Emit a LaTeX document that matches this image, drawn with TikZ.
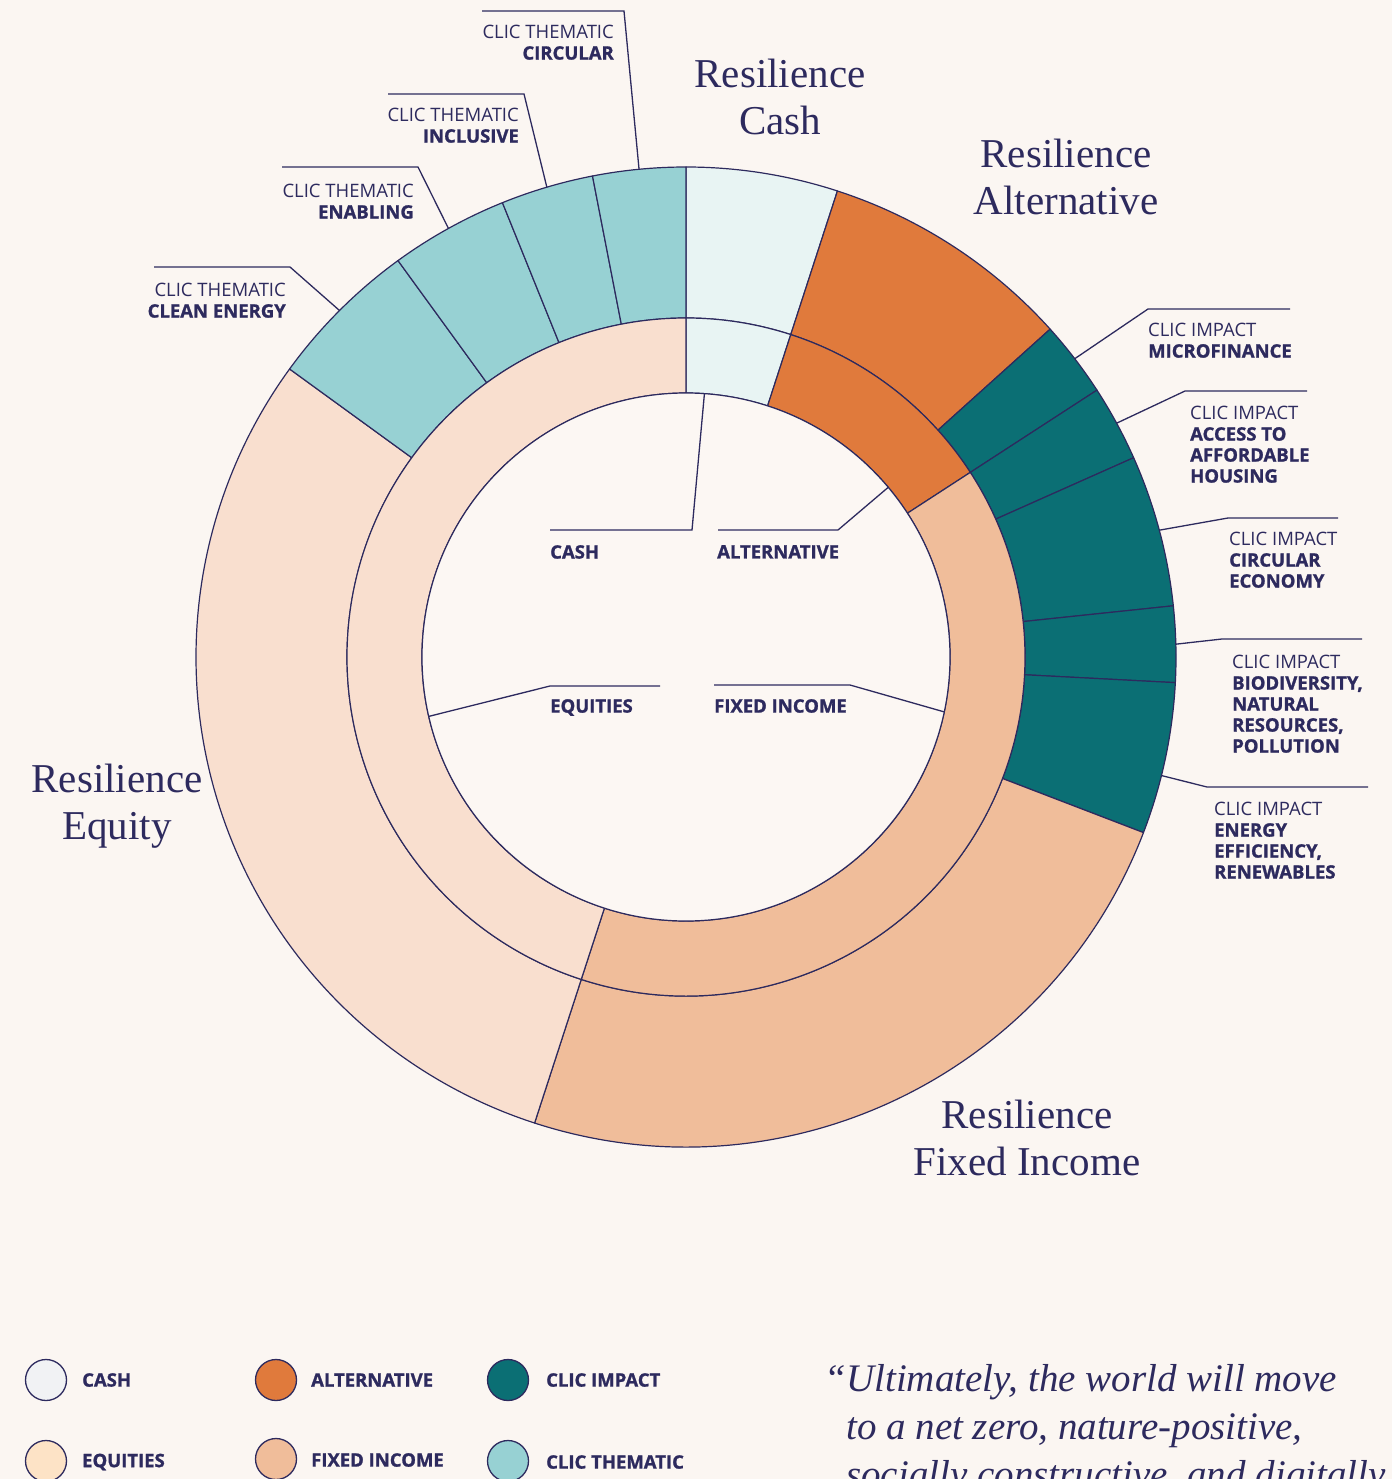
\documentclass[tikz,border=0pt]{standalone}
\usepackage{fontspec}
\newfontfamily\osans{Open Sans}[BoldFeatures={FakeBold=1.2}]
\newfontfamily\serifT{Liberation Serif}[Ligatures=TeX]
\usetikzlibrary{calc}
\definecolor{bg}{HTML}{FBF6F2}
\definecolor{centerc}{HTML}{FCF7F3}
\definecolor{navy}{HTML}{2D2A5E}
\definecolor{cashc}{HTML}{E8F4F3}
\definecolor{altc}{HTML}{E07A3C}
\definecolor{impc}{HTML}{0B6F74}
\definecolor{themc}{HTML}{97D1D3}
\definecolor{eqc}{HTML}{F9DFCF}
\definecolor{fic}{HTML}{F0BD9A}
\definecolor{legcash}{HTML}{F1F2F4}
\definecolor{legeq}{HTML}{FDE3C6}
\newcommand\annsec[5]{\filldraw[seg,fill=#1] (#2:#4) arc[start angle=#2,end angle=#3,radius=#4] -- (#3:#5) arc[start angle=#3,end angle=#2,radius=#5] -- cycle;}
\tikzset{
 seg/.style={draw=navy, line width=1.2pt, line join=round},
 lab/.style={font=\osans\fontsize{18.5}{21}\selectfont, text=navy, inner sep=0, align=left},
 leader/.style={draw=navy, line width=1.3pt},
 title/.style={font=\serifT\fontsize{41}{47}\selectfont, text=navy, inner sep=0, align=center, anchor=north},
 legdot/.style={circle, draw=navy, line width=1.3pt, minimum size=41pt, inner sep=0},
}
\begin{document}
\begin{tikzpicture}[x=1pt,y=1pt]
\useasboundingbox (0,0) rectangle (1392,-1479);
\fill[bg] (0,0) rectangle (1392,-1479);
\begin{scope}[shift={(686,-657)}]
% outer ring
\annsec{cashc}{90}{72}{339}{490}
\annsec{altc}{72}{42}{339}{490}
\annsec{impc}{42}{33}{339}{490}
\annsec{impc}{33}{24}{339}{490}
\annsec{impc}{24}{6}{339}{490}
\annsec{impc}{6}{-3}{339}{490}
\annsec{impc}{-3}{-21}{339}{490}
\annsec{fic}{-21}{-108}{339}{490}
\annsec{eqc}{-108}{-216}{339}{490}
\annsec{themc}{144}{126}{339}{490}
\annsec{themc}{126}{112}{339}{490}
\annsec{themc}{112}{101}{339}{490}
\annsec{themc}{101}{90}{339}{490}
% inner ring
\annsec{cashc}{90}{72}{264}{339}
\annsec{altc}{72}{33}{264}{339}
\annsec{fic}{33}{-108}{264}{339}
\annsec{eqc}{-108}{-270}{264}{339}
\filldraw[seg,fill=centerc] (0,0) circle[radius=264];
% anchor points on rings
\coordinate (pThCirc) at (95.5:490);
\coordinate (pThIncl) at (106.5:490);
\coordinate (pThEnab) at (119:490);
\coordinate (pThClean) at (135:490);
\coordinate (pImMicro) at (37.5:490);
\coordinate (pImHouse) at (28.5:490);
\coordinate (pImCirc) at (15:490);
\coordinate (pImBio) at (1.5:490);
\coordinate (pImEnergy) at (-14:490);
\coordinate (pCash) at (86:264);
\coordinate (pAlt) at (40:264);
\coordinate (pEq) at (193:264);
\coordinate (pFi) at (-12:264);
\end{scope}

% thematic labels (left)
\node[lab,align=right,anchor=north east] (lThCirc) at (614,-25) {CLIC THEMATIC\\\textbf{CIRCULAR}};
\node[lab,align=right,anchor=north east] (lThIncl) at (519,-108) {CLIC THEMATIC\\\textbf{INCLUSIVE}};
\node[lab,align=right,anchor=north east] (lThEnab) at (414,-184) {CLIC THEMATIC\\\textbf{ENABLING}};
\node[lab,align=right,anchor=north east] (lThClean) at (286,-283) {CLIC THEMATIC\\\textbf{CLEAN ENERGY}};
\coordinate (sThCirc) at (482,-11); \coordinate (kThCirc) at (624,-11);
\coordinate (sThIncl) at (388,-94); \coordinate (kThIncl) at (524,-94);
\coordinate (sThEnab) at (282,-167); \coordinate (kThEnab) at (418,-167);
\coordinate (sThClean) at (154,-267); \coordinate (kThClean) at (290,-267);
\draw[leader] (sThCirc) -- (kThCirc) -- (pThCirc);
\draw[leader] (sThIncl) -- (kThIncl) -- (pThIncl);
\draw[leader] (sThEnab) -- (kThEnab) -- (pThEnab);
\draw[leader] (sThClean) -- (kThClean) -- (pThClean);

% impact labels (right)
\node[lab,anchor=north west] (lImMicro) at (1148,-323) {CLIC IMPACT\\\textbf{MICROFINANCE}};
\node[lab,anchor=north west] (lImHouse) at (1190,-406) {CLIC IMPACT\\\textbf{ACCESS TO}\\\textbf{AFFORDABLE}\\\textbf{HOUSING}};
\node[lab,anchor=north west] (lImCirc) at (1229,-532) {CLIC IMPACT\\\textbf{CIRCULAR}\\\textbf{ECONOMY}};
\node[lab,anchor=north west] (lImBio) at (1232,-655) {CLIC IMPACT\\\textbf{BIODIVERSITY,}\\\textbf{NATURAL}\\\textbf{RESOURCES,}\\\textbf{POLLUTION}};
\node[lab,anchor=north west] (lImEnergy) at (1214,-802) {CLIC IMPACT\\\textbf{ENERGY}\\\textbf{EFFICIENCY,}\\\textbf{RENEWABLES}};
\coordinate (kImMicro) at (1148,-309); \coordinate (eImMicro) at (1290,-309);
\coordinate (kImHouse) at (1185,-391); \coordinate (eImHouse) at (1307,-391);
\coordinate (kImCirc) at (1228,-518); \coordinate (eImCirc) at (1338,-518);
\coordinate (kImBio) at (1222,-639); \coordinate (eImBio) at (1362,-639);
\coordinate (kImEnergy) at (1207,-787); \coordinate (eImEnergy) at (1368,-787);
\draw[leader] (pImMicro) -- (kImMicro) -- (eImMicro);
\draw[leader] (pImHouse) -- (kImHouse) -- (eImHouse);
\draw[leader] (pImCirc) -- (kImCirc) -- (eImCirc);
\draw[leader] (pImBio) -- (kImBio) -- (eImBio);
\draw[leader] (pImEnergy) -- (kImEnergy) -- (eImEnergy);

% inner labels
\node[lab,anchor=north west] (lCash) at (550,-545) {\textbf{CASH}};
\node[lab,anchor=north west] (lAlt) at (717,-545) {\textbf{ALTERNATIVE}};
\node[lab,anchor=north west] (lEq) at (550,-699) {\textbf{EQUITIES}};
\node[lab,anchor=north west] (lFi) at (714,-699) {\textbf{FIXED INCOME}};
\coordinate (kCash) at (692,-530); \coordinate (eCash) at (550,-530);
\coordinate (kAlt) at (838,-530); \coordinate (eAlt) at (718,-530);
\coordinate (kEq) at (550,-686); \coordinate (eEq) at (660,-686);
\coordinate (kFi) at (850,-685); \coordinate (eFi) at (714,-685);
\draw[leader] (pCash) -- (kCash) -- (eCash);
\draw[leader] (pAlt) -- (kAlt) -- (eAlt);
\draw[leader] (pEq) -- (kEq) -- (eEq);
\draw[leader] (pFi) -- (kFi) -- (eFi);

% big titles
\node[title] (tCash) at (780,-59) {Resilience\\Cash};
\node[title] (tAlt) at (1066,-139) {Resilience\\Alternative};
\node[title] (tEq) at (117,-764) {Resilience\\Equity};
\node[title] (tFi) at (1027,-1100) {Resilience\\Fixed Income};

% legend
\node[legdot,fill=legcash] (dCash) at (46,-1380) {};
\node[legdot,fill=altc] (dAlt) at (276,-1380) {};
\node[legdot,fill=impc] (dImp) at (508,-1380) {};
\node[legdot,fill=legeq] (dEq) at (46,-1461) {};
\node[legdot,fill=fic] (dFi) at (276,-1459) {};
\node[legdot,fill=themc] (dTh) at (508,-1461) {};
\node[lab,anchor=west] (gCash) at (82,-1380) {\textbf{CASH}};
\node[lab,anchor=west] (gAlt) at (311,-1380) {\textbf{ALTERNATIVE}};
\node[lab,anchor=west] (gImp) at (546,-1380) {\textbf{CLIC IMPACT}};
\node[lab,anchor=west] (gEq) at (82,-1462) {\textbf{EQUITIES}};
\node[lab,anchor=west] (gFi) at (311,-1460) {\textbf{FIXED INCOME}};
\node[lab,anchor=west] (gTh) at (546,-1462) {\textbf{CLIC THEMATIC}};

% quote
\node[font=\serifT\itshape\fontsize{39}{48}\selectfont, text=navy, inner sep=0, align=left, anchor=north west] (quote) at (846,-1364)
 {\llap{“}Ultimately, the world will move\\to a net zero, nature-positive,\\socially constructive, and digitally};
\end{tikzpicture}
\end{document}
